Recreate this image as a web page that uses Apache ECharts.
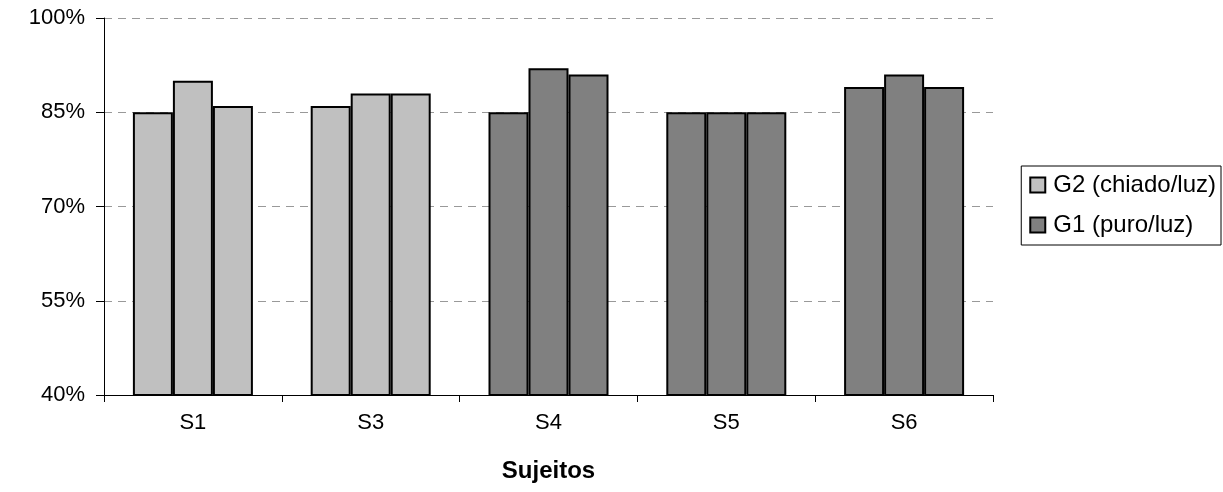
<!DOCTYPE html>
<html>
<head>
<meta charset="utf-8">
<script src="https://cdn.jsdelivr.net/npm/echarts@6/dist/echarts.min.js"></script>
<style>html,body{margin:0;padding:0;background:#fff;}#c{width:1223px;height:492px;}</style>
</head>
<body>
<div id="c"></div>
<script>
const categories = ['S1', 'S3', 'S4', 'S5', 'S6'];
// G2 (chiado/luz): light bars, three per subject
const g2Bar1 = [85, 86, '-', '-', '-'];
const g2Bar2 = [90, 88, '-', '-', '-'];
const g2Bar3 = [86, 88, '-', '-', '-'];
// G1 (puro/luz): dark bars, three per subject
const g1Bar1 = ['-', '-', 85, 85, 89];
const g1Bar2 = ['-', '-', 92, 85, 91];
const g1Bar3 = ['-', '-', 91, 85, 89];
const yTicks = [40, 55, 70, 85, 100];
const seriesNames = ['G2 (chiado/luz)', 'G1 (puro/luz)'];

const font = 'Liberation Sans, Arial, sans-serif';
const colG2 = '#c0c0c0', colG1 = '#808080';
function mk(name, data, stack, color) {
  return {
    name: name, type: 'bar', stack: stack, data: data,
    barWidth: 40, barGap: '0%',
    itemStyle: { color: color, borderColor: '#000', borderWidth: 2 },
    emphasis: { disabled: true },
    animation: false
  };
}
const chart = echarts.init(document.getElementById('c'), null, { renderer: 'canvas' });
chart.setOption({
  animation: false,
  grid: { left: 104, right: 230, top: 18, bottom: 97, containLabel: false },
  legend: {
    orient: 'vertical', right: 2, top: 166,
    data: seriesNames,
    icon: 'rect', itemWidth: 15, itemHeight: 15, itemGap: 16,
    borderColor: '#000', borderWidth: 1, padding: [7, 5, 8, 8],
    textStyle: { fontFamily: font, fontSize: 24, color: '#000', padding: [0, 0, 0, 3] },
    selectedMode: false
  },
  xAxis: {
    type: 'category', data: categories,
    name: 'Sujeitos', nameLocation: 'middle', nameGap: 64,
    nameTextStyle: { fontFamily: font, fontSize: 24, fontWeight: 'bold', color: '#000' },
    axisLine: { lineStyle: { color: '#000', width: 1 } },
    axisTick: { show: true, length: 7, lineStyle: { color: '#000' } },
    axisLabel: { fontFamily: font, fontSize: 22, color: '#000', margin: 17 }
  },
  yAxis: {
    type: 'value', min: yTicks[0], max: yTicks[yTicks.length - 1], interval: 15,
    axisLine: { show: true, lineStyle: { color: '#000', width: 1 } },
    axisTick: { show: true, inside: false, length: 8, lineStyle: { color: '#000' } },
    axisLabel: { fontFamily: font, fontSize: 22, color: '#000', margin: 19, formatter: v => v + '%' },
    splitLine: { show: true, lineStyle: { color: '#999', type: [8, 6], width: 1 } }
  },
  series: [
    mk(seriesNames[0], g2Bar1, 'a', colG2),
    mk(seriesNames[1], g1Bar1, 'a', colG1),
    mk(seriesNames[0], g2Bar2, 'b', colG2),
    mk(seriesNames[1], g1Bar2, 'b', colG1),
    mk(seriesNames[0], g2Bar3, 'c', colG2),
    mk(seriesNames[1], g1Bar3, 'c', colG1)
  ]
});
</script>
</body>
</html>
